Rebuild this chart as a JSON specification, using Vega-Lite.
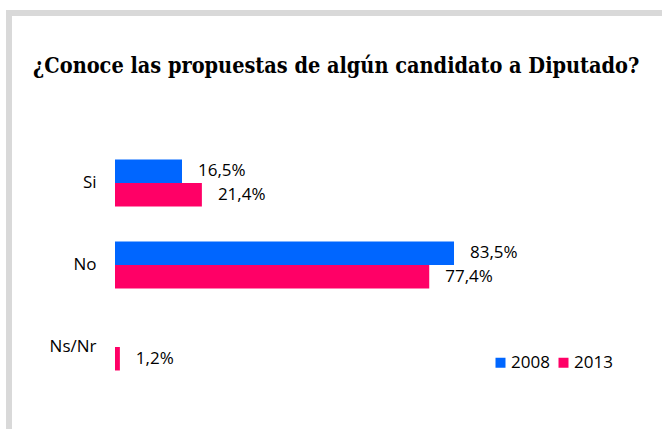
{
  "$schema": "https://vega.github.io/schema/vega-lite/v6.json",
  "width": 662,
  "height": 429,
  "autosize": "none",
  "padding": {"left": 9, "top": 13, "right": -9, "bottom": -13},
  "background": "white",
  "config": {"view": {"stroke": "#d9d9d9", "strokeWidth": 6}},
  "title": {
    "text": "¿Conoce las propuestas de algún candidato a Diputado?",
    "anchor": "start",
    "frame": "group",
    "font": "DejaVu Serif Condensed",
    "fontSize": 21.5,
    "fontWeight": "bold",
    "color": "#000000",
    "offset": 0,
    "baseline": "alphabetic",
    "dx": 24,
    "dy": 81
  },
  "data": {
    "values": [
      {"resp": "Si", "year": "2008", "pct": 16.5},
      {"resp": "Si", "year": "2013", "pct": 21.4},
      {"resp": "No", "year": "2008", "pct": 83.5},
      {"resp": "No", "year": "2013", "pct": 77.4},
      {"resp": "Ns/Nr", "year": "2013", "pct": 1.2}
    ]
  },
  "transform": [
    {"calculate": "replace(format(datum.pct, '.1f'), '.', ',') + '%'", "as": "label"}
  ],
  "encoding": {
    "y": {
      "field": "resp",
      "type": "nominal",
      "sort": ["Si", "No", "Ns/Nr"],
      "scale": {"range": [129, 375], "paddingInner": 0.427, "paddingOuter": 0.2135},
      "axis": {
        "title": null,
        "domain": false,
        "ticks": false,
        "grid": false,
        "offset": -106,
        "labelPadding": 19,
        "labelFont": "Open Sans",
        "labelFontSize": 17,
        "labelColor": "#000000"
      }
    },
    "yOffset": {
      "field": "year",
      "type": "nominal",
      "sort": ["2008", "2013"],
      "scale": {"paddingInner": 0, "paddingOuter": 0}
    },
    "x": {
      "field": "pct",
      "type": "quantitative",
      "scale": {"domain": [0, 100], "range": [106, 512]},
      "axis": null
    }
  },
  "layer": [
    {
      "mark": {"type": "bar"},
      "encoding": {
        "color": {
          "field": "year",
          "type": "nominal",
          "scale": {"domain": ["2008", "2013"], "range": ["#0066ff", "#ff0066"]},
          "legend": {
            "orient": "none",
            "legendX": 483,
            "legendY": 341,
            "direction": "horizontal",
            "title": null,
            "symbolType": "square",
            "symbolSize": 100,
            "symbolStrokeWidth": 0,
            "labelFont": "Open Sans",
            "labelFontSize": 17,
            "labelColor": "#000000",
            "labelOffset": 2,
            "columnPadding": 5
          }
        }
      }
    },
    {
      "mark": {
        "type": "text",
        "align": "left",
        "baseline": "middle",
        "dx": 16,
        "font": "Open Sans",
        "fontSize": 17,
        "color": "#000000"
      },
      "encoding": {"text": {"field": "label", "type": "nominal"}}
    }
  ]
}
